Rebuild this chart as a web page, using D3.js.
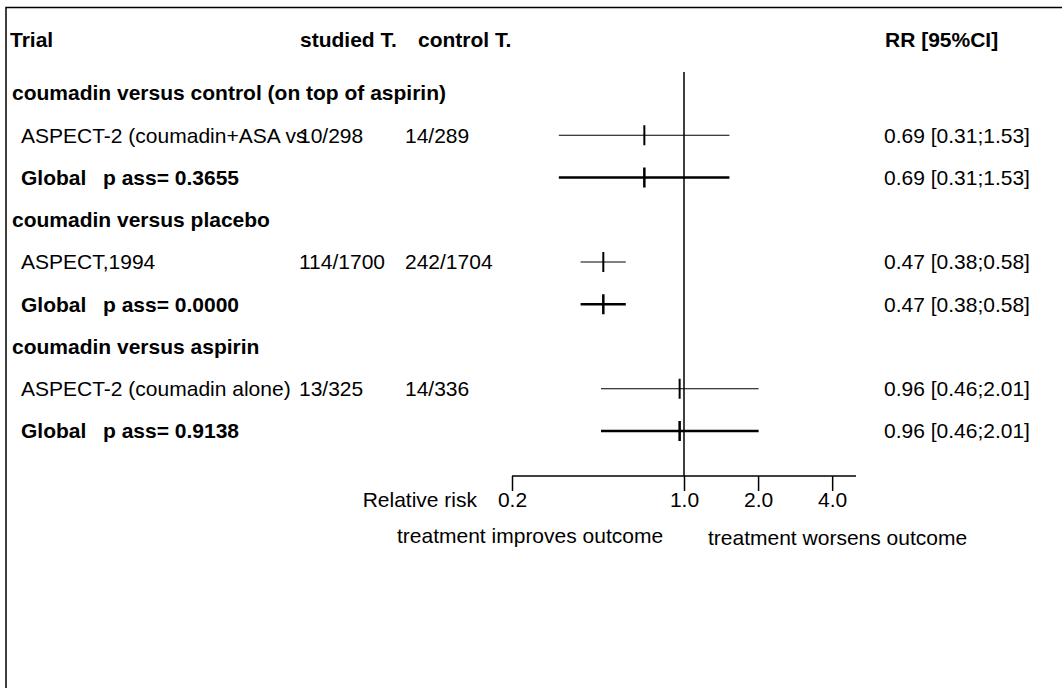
<!DOCTYPE html>
<html lang="en">
<head>
<meta charset="utf-8">
<script src="https://d3js.org/d3.v7.min.js"></script>
<style>
  body { margin: 0; background: #fff; }
  text { font-family: "Liberation Sans", Arial, Helvetica, sans-serif; font-size: 21px; fill: #000; }
  .bold { font-weight: bold; }
</style>
</head>
<body>
<div id="chart"></div>
<script>
// groups of the meta-analysis
var groups = ["coumadin versus control (on top of aspirin)", "coumadin versus placebo", "coumadin versus aspirin"];

// one trial per group
var trialNames = ["ASPECT-2 (coumadin+ASA vs", "ASPECT,1994", "ASPECT-2 (coumadin alone)"];
var studiedT = ["10/298", "114/1700", "13/325"];
var controlT = ["14/289", "242/1704", "14/336"];
var rr = [0.69, 0.47, 0.96];
var lo = [0.31, 0.38, 0.46];
var hi = [1.53, 0.58, 2.01];

// global estimate per group
var pAss = ["0.3655", "0.0000", "0.9138"];
var globRR = [0.69, 0.47, 0.96];
var globLo = [0.31, 0.38, 0.46];
var globHi = [1.53, 0.58, 2.01];

var ticks = [0.2, 1, 2, 4];

var width = 1062, height = 688;

var svg = d3.select("#chart")
  .append("svg")
    .attr("width", width)
    .attr("height", height);

// frame (top and left only)
svg.append("path")
  .attr("d", "M6,688 L6,7.5 L1062,7.5")
  .attr("fill", "none")
  .attr("stroke", "#000")
  .attr("stroke-width", 1.5);

var x = d3.scaleLog().domain([0.2, 5]).range([512, 856]);
var yRow = d3.scaleLinear().domain([1, 9]).range([93, 431]);

function fmt(v) { return d3.format(".2f")(v); }

// header
var head = svg.append("g").attr("class", "bold");
head.append("text").attr("x", 10).attr("y", 40).attr("dy", "0.35em").text("Trial");
head.append("text").attr("x", 300).attr("y", 40).attr("dy", "0.35em").text("studied T.");
head.append("text").attr("x", 418).attr("y", 40).attr("dy", "0.35em").text("control T.");
head.append("text").attr("x", 885).attr("y", 40).attr("dy", "0.35em").text("RR [95%CI]");

// build rows
var rows = [];
groups.forEach(function(g, i) {
  rows.push({type: "group", label: g});
  rows.push({type: "trial", label: trialNames[i], s: studiedT[i], c: controlT[i], rr: rr[i], lo: lo[i], hi: hi[i]});
  rows.push({type: "global", p: pAss[i], rr: globRR[i], lo: globLo[i], hi: globHi[i]});
});
rows.forEach(function(d, i) { d.y = yRow(i + 1); });

// reference line at RR = 1
svg.append("line")
  .attr("x1", x(1)).attr("x2", x(1))
  .attr("y1", 72).attr("y2", 476)
  .attr("stroke", "#000").attr("stroke-width", 1.5);

rows.forEach(function(d) {
  if (d.type === "group") {
    svg.append("text").attr("class", "bold").attr("x", 12).attr("y", d.y).attr("dy", "0.35em").text(d.label);
    return;
  }
  if (d.type === "trial") {
    svg.append("text").attr("x", 21).attr("y", d.y).attr("dy", "0.35em").text(d.label);
    svg.append("text").attr("x", 299).attr("y", d.y).attr("dy", "0.35em").text(d.s);
    svg.append("text").attr("x", 405).attr("y", d.y).attr("dy", "0.35em").text(d.c);
  } else {
    svg.append("text").attr("class", "bold").attr("x", 21).attr("y", d.y).attr("dy", "0.35em").text("Global");
    svg.append("text").attr("class", "bold").attr("x", 103).attr("y", d.y).attr("dy", "0.35em").text("p ass= " + d.p);
  }
  var sw = d.type === "global" ? 2.5 : 1;
  svg.append("line")
    .attr("x1", x(d.lo)).attr("x2", x(d.hi))
    .attr("y1", d.y).attr("y2", d.y)
    .attr("stroke", "#000").attr("stroke-width", sw);
  svg.append("line")
    .attr("x1", x(d.rr)).attr("x2", x(d.rr))
    .attr("y1", d.y - 10).attr("y2", d.y + 10)
    .attr("stroke", "#000").attr("stroke-width", d.type === "global" ? 2.5 : 2);
  svg.append("text").attr("x", 884).attr("y", d.y).attr("dy", "0.35em")
    .text(fmt(d.rr) + " [" + fmt(d.lo) + ";" + fmt(d.hi) + "]");
});

// relative risk axis
var axis = d3.axisBottom(x)
  .tickValues(ticks)
  .tickSize(15)
  .tickFormat(d3.format(".1f"));

var gAxis = svg.append("g")
  .attr("transform", "translate(0,476)")
  .call(axis);
gAxis.select(".domain").attr("d", "M" + x.range()[0] + ",0H" + x.range()[1]).attr("stroke-width", 1.5);
gAxis.selectAll(".tick line").attr("stroke-width", 1.5);
gAxis.selectAll(".tick text")
  .attr("y", 24)
  .attr("dy", "0.35em")
  .style("font-size", "21px")
  .style("font-family", "'Liberation Sans', Arial, sans-serif");

svg.append("text").attr("x", 477).attr("y", 500).attr("dy", "0.35em")
  .attr("text-anchor", "end").text("Relative risk");
svg.append("text").attr("x", 397).attr("y", 536).attr("dy", "0.35em").text("treatment improves outcome");
svg.append("text").attr("x", 708).attr("y", 538).attr("dy", "0.35em").text("treatment worsens outcome");
</script>
</body>
</html>
